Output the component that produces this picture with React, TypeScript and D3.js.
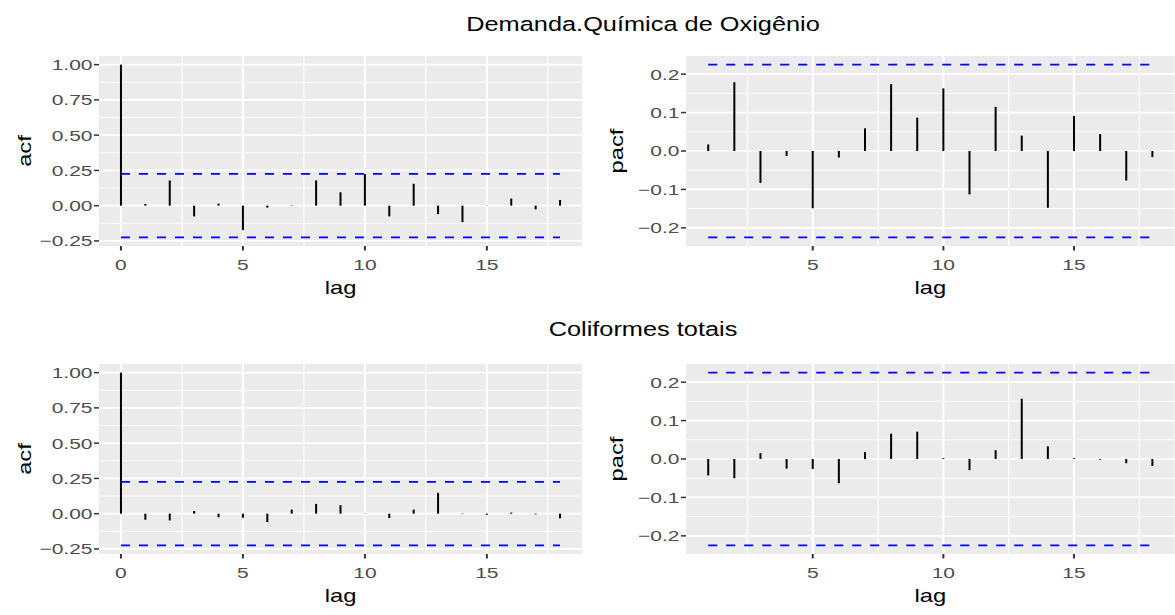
import React from "react";
import * as d3 from "d3";

const W = 1175;
const H = 615;

const titleTop = "Demanda.Química de Oxigênio";
const titleBottom = "Coliformes totais";

const acfLags = d3.range(0, 19);
const pacfLags = d3.range(1, 19);

const acfDQO = [1, 0.012, 0.179, -0.076, 0.014, -0.174, -0.014, 0.003, 0.179, 0.095, 0.224, -0.076, 0.155, -0.06, -0.117, 0.002, 0.05, -0.026, 0.04];
const pacfDQO = [0.017, 0.179, -0.083, -0.013, -0.149, -0.017, 0.059, 0.174, 0.087, 0.163, -0.113, 0.115, 0.04, -0.148, 0.091, 0.044, -0.077, -0.016];
const acfCT = [1, -0.043, -0.048, 0.019, -0.026, -0.029, -0.06, 0.029, 0.069, 0.06, 0.002, -0.031, 0.029, 0.148, -0.003, -0.008, 0.008, -0.005, -0.033];
const pacfCT = [-0.043, -0.05, 0.015, -0.025, -0.026, -0.063, 0.018, 0.066, 0.071, 0.002, -0.029, 0.023, 0.157, 0.033, 0.002, -0.002, -0.011, -0.018];

const ci = 0.2248;

const acfYTicks = [-0.25, 0, 0.25, 0.5, 0.75, 1.0];
const pacfYTicks = [-0.2, -0.1, 0, 0.1, 0.2];
const acfXTicks = [0, 5, 10, 15];
const pacfXTicks = [5, 10, 15];

const FONT = "'Liberation Sans', Arial, Helvetica, sans-serif";

function fmt(v: number, digits: number) {
  const s = Math.abs(v).toFixed(digits);
  return v < -1e-9 ? "\u2212" + s : s;
}

function minorBetween(ticks: number[], lo: number, hi: number) {
  const step = ticks[1] - ticks[0];
  const out: number[] = [];
  const start = ticks[0] - step / 2;
  for (let v = start; v <= hi + 1e-9; v += step) {
    if (v >= lo - 1e-9 && !ticks.some((t) => Math.abs(t - v) < 1e-9)) out.push(v);
  }
  return out;
}

function STxt(props: { x: number; y: number; anchor?: string; size: number; sx: number; fill?: string; rotate?: boolean; children: React.ReactNode }) {
  const { x, y, anchor = "middle", size, sx, fill = "#000", rotate = false, children } = props;
  return (
    <text
      transform={`translate(${x},${y})${rotate ? " rotate(-90)" : ""} scale(${sx},1)`}
      textAnchor={anchor}
      fontSize={size}
      fill={fill}
      fontFamily={FONT}
    >
      {children}
    </text>
  );
}

type PanelProps = {
  left: number;
  right: number;
  top: number;
  bottom: number;
  lags: number[];
  values: number[];
  yTicks: number[];
  xTicks: number[];
  digits: number;
  yLabel: string;
  yLabelX: number;
};

function Panel(p: PanelProps) {
  const lagMin = d3.min(p.lags)!;
  const lagMax = d3.max(p.lags)!;
  const xPad = (lagMax - lagMin) * 0.05;
  const x = d3.scaleLinear().domain([lagMin - xPad, lagMax + xPad]).range([p.left, p.right]);
  const vMin = Math.min(-ci, d3.min(p.values)!);
  const vMax = Math.max(ci, d3.max(p.values)!);
  const yPad = (vMax - vMin) * 0.05;
  const y = d3.scaleLinear().domain([vMin - yPad, vMax + yPad]).range([p.bottom, p.top]);
  const [xd0, xd1] = x.domain();
  const [yd0, yd1] = y.domain();
  const yMinor = minorBetween(p.yTicks, yd0, yd1);
  const xMinor = minorBetween(p.xTicks, xd0, xd1);
  const cx = (p.left + p.right) / 2;
  const cy = (p.top + p.bottom) / 2;
  return (
    <g>
      <rect x={p.left} y={p.top} width={p.right - p.left} height={p.bottom - p.top} fill="#EBEBEB" />
      {yMinor.map((v) => (
        <line key={"ym" + v} x1={p.left} x2={p.right} y1={y(v)} y2={y(v)} stroke="#fff" strokeWidth={0.8} />
      ))}
      {xMinor.map((v) => (
        <line key={"xm" + v} x1={x(v)} x2={x(v)} y1={p.top} y2={p.bottom} stroke="#fff" strokeWidth={1.1} />
      ))}
      {p.yTicks.map((v) => (
        <line key={"yM" + v} x1={p.left} x2={p.right} y1={y(v)} y2={y(v)} stroke="#fff" strokeWidth={1.6} />
      ))}
      {p.xTicks.map((v) => (
        <line key={"xM" + v} x1={x(v)} x2={x(v)} y1={p.top} y2={p.bottom} stroke="#fff" strokeWidth={2.1} />
      ))}
      {p.lags.map((l, i) => (
        <line key={"b" + l} x1={x(l)} x2={x(l)} y1={y(0)} y2={y(p.values[i])} stroke="#000" strokeWidth={2} />
      ))}
      {[ci, -ci].map((c) => (
        <line
          key={"ci" + c}
          x1={x(lagMin)}
          x2={x(lagMax)}
          y1={y(c)}
          y2={y(c)}
          stroke="#0000FF"
          strokeWidth={1.8}
          strokeDasharray="9,9"
        />
      ))}
      {p.yTicks.map((v) => (
        <g key={"yt" + v}>
          <line x1={p.left - 5} x2={p.left} y1={y(v)} y2={y(v)} stroke="#333" strokeWidth={1.5} />
          <STxt x={p.left - 6.5} y={y(v) + 5.4} anchor="end" size={15} sx={1.4} fill="#4D4D4D">
            {fmt(v, p.digits)}
          </STxt>
        </g>
      ))}
      {p.xTicks.map((v) => (
        <g key={"xt" + v}>
          <line x1={x(v)} x2={x(v)} y1={p.bottom} y2={p.bottom + 4.5} stroke="#333" strokeWidth={2} />
          <STxt x={x(v)} y={p.bottom + 24} size={15} sx={1.4} fill="#4D4D4D">
            {String(v)}
          </STxt>
        </g>
      ))}
      <STxt x={cx} y={p.bottom + 47.5} size={19} sx={1.25}>
        lag
      </STxt>
      <STxt x={p.yLabelX} y={cy} size={19} sx={1.25} rotate>
        {p.yLabel}
      </STxt>
    </g>
  );
}

export default function App() {
  const rows = [
    { top: 56, bottom: 246, acf: acfDQO, pacf: pacfDQO, title: titleTop, titleY: 30.5 },
    { top: 364, bottom: 554, acf: acfCT, pacf: pacfCT, title: titleBottom, titleY: 336 },
  ];
  return (
    <svg width={W} height={H} style={{ position: "absolute", left: 0, top: 0, background: "#fff" }}>
      <rect x={0} y={0} width={W} height={H} fill="#fff" />
      {rows.map((r, i) => (
        <g key={i}>
          <STxt x={643} y={r.titleY} size={19.5} sx={1.3}>
            {r.title}
          </STxt>
          <Panel
            left={99}
            right={582}
            top={r.top}
            bottom={r.bottom}
            lags={acfLags}
            values={r.acf}
            yTicks={acfYTicks}
            xTicks={acfXTicks}
            digits={2}
            yLabel="acf"
            yLabelX={30.7}
          />
          <Panel
            left={686}
            right={1174.6}
            top={r.top}
            bottom={r.bottom}
            lags={pacfLags}
            values={r.pacf}
            yTicks={pacfYTicks}
            xTicks={pacfXTicks}
            digits={1}
            yLabel="pacf"
            yLabelX={622.7}
          />
        </g>
      ))}
    </svg>
  );
}
